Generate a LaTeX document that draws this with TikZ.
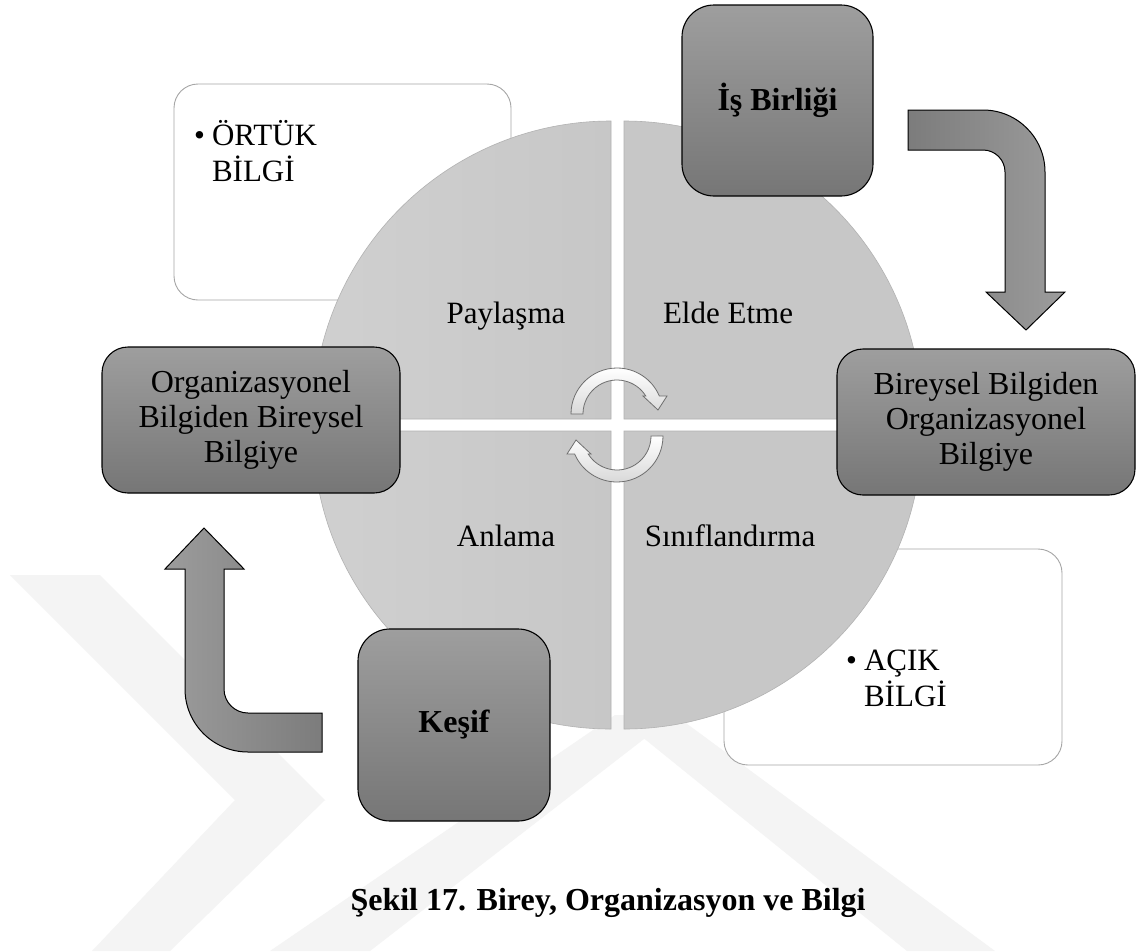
\documentclass[tikz,border=0pt]{standalone}
\usepackage{fontspec}
\setmainfont{Liberation Serif}
\definecolor{boxtop}{HTML}{9E9E9E}
\definecolor{boxbot}{HTML}{767676}
\definecolor{wbord}{HTML}{A6A6A6}
\definecolor{quadfill}{HTML}{C7C7C7}
\definecolor{quadlight}{HTML}{D0D0D0}
\definecolor{qbord}{HTML}{B2B2B2}
\definecolor{arrlight}{HTML}{9C9C9C}
\definecolor{arrdark}{HTML}{7C7C7C}
\definecolor{cabot}{HTML}{D9D9D9}
\definecolor{cabord}{HTML}{6E6E6E}
\definecolor{wmcol}{HTML}{F4F4F4}
\begin{document}
\begin{tikzpicture}[x=1pt,y=-1pt]
\tikzset{
  darkbox/.style={draw=black, line width=1.1pt, top color=boxtop, bottom color=boxbot,
    align=center, inner sep=0pt, font=\fontsize{32}{35}\selectfont},
  whitebox/.style={draw=wbord, line width=0.9pt, fill=white, rounded corners=24pt, inner sep=0pt},
  quadrant/.style={draw=qbord, line width=0.6pt},
  bentarrow/.style={draw=black, line width=1pt},
  cyclearrow/.style={draw=cabord, line width=0.8pt, top color=white, bottom color=cabot},
  qlabel/.style={font=\fontsize{31}{35}\selectfont, anchor=base, inner sep=0pt},
  bullettext/.style={font=\fontsize{31}{33}\selectfont, anchor=base west, inner sep=0pt, align=left},
  wmband/.style={fill=wmcol, draw=none}
}
\useasboundingbox[fill=white] (0,0) rectangle (1138,951);

% faint watermark
\path[wmband] (10,575) -- (100,575) -- (325,800) -- (235,800) -- cycle;
\path[wmband] (92,951) -- (170,951) -- (325,800) -- (235,800) -- cycle;
\path[wmband] (270,951) -- (370,951) -- (675,715) -- (615,715) -- cycle;
\path[wmband] (615,715) -- (675,715) -- (995,951) -- (907,951) -- cycle;

% white text boxes (behind the circle)
\node[whitebox, minimum width=337pt, minimum height=216pt] (ortukbox) at (342.5,192) {};
\node[whitebox, minimum width=338pt, minimum height=216pt] (acikbox) at (893,657) {};
\node[bullettext] (ortuktext) at (194,162)
  {\begin{tabular}{@{}l@{\hspace{7pt}}l@{}}\textbullet & ÖRTÜK\\ & BİLGİ\end{tabular}};
\node[bullettext] (aciktext) at (846,688)
  {\begin{tabular}{@{}l@{\hspace{7pt}}l@{}}\textbullet & AÇIK\\ & BİLGİ\end{tabular}};

% circle quadrants
\path[quadrant, left color=quadlight, right color=quadfill]
  (611,419) -- (313,419) arc[start angle=180, end angle=270, radius=298] -- cycle;
\path[quadrant, fill=quadfill]
  (624,419) -- (624,121) arc[start angle=270, end angle=360, radius=298] -- cycle;
\path[quadrant, fill=quadfill]
  (624,431) -- (922,431) arc[start angle=0, end angle=90, radius=298] -- cycle;
\path[quadrant, left color=quadlight, right color=quadfill]
  (611,431) -- (611,729) arc[start angle=90, end angle=180, radius=298] -- cycle;

\node[qlabel] (paylasma) at (506,323) {Paylaşma};
\node[qlabel] (eldeetme) at (728,323) {Elde Etme};
\node[qlabel] (anlama) at (506,546) {Anlama};
\node[qlabel] (sinif) at (730,546) {Sınıflandırma};

% central cycle arrows
\path[cyclearrow] (571,414) arc[start angle=180, end angle=337, radius=46]
  -- (667,396) -- (658,410) -- (643,396) -- (645.8,396)
  arc[start angle=328, end angle=180, radius=34] -- cycle;
\begin{scope}[rotate around={180:(617,425)}]
\path[cyclearrow] (571,414) arc[start angle=180, end angle=337, radius=46]
  -- (667,396) -- (658,410) -- (643,396) -- (645.8,396)
  arc[start angle=328, end angle=180, radius=34] -- cycle;
\end{scope}

% bent arrows
\path[bentarrow, left color=arrdark, right color=arrlight]
  (908,110) -- (983,110) arc[start angle=270, end angle=360, radius=62]
  -- (1045,292) -- (1065,292) -- (1026,330) -- (986,292) -- (1005,292)
  -- (1005,172) arc[start angle=360, end angle=270, radius=22]
  -- (908,150) -- cycle;
\path[bentarrow, left color=arrlight, right color=arrdark]
  (322,713) -- (248,713) arc[start angle=90, end angle=180, radius=24]
  -- (224,569) -- (244,569) -- (204,528) -- (165,569) -- (185,569)
  -- (185,689) arc[start angle=180, end angle=90, radius=63]
  -- (322,752) -- cycle;

% dark boxes
\node[darkbox, rounded corners=26pt, minimum width=298pt, minimum height=146pt]
  (orgbox) at (251,420) {Organizasyonel\\Bilgiden Bireysel\\Bilgiye};
\node[darkbox, rounded corners=26pt, minimum width=298pt, minimum height=146pt]
  (birbox) at (986,422) {Bireysel Bilgiden\\Organizasyonel\\Bilgiye};
\node[darkbox, rounded corners=32pt, minimum width=191pt, minimum height=191pt]
  (isbox) at (777.5,100.5) {\bfseries İş Birliği};
\node[darkbox, rounded corners=32pt, minimum width=192pt, minimum height=192pt]
  (kesifbox) at (454,725) {\bfseries Keşif};

% caption
\node[font=\fontsize{32}{35}\selectfont\bfseries, anchor=base, inner sep=0pt]
  (caption) at (608,910) {Şekil 17. Birey, Organizasyon ve Bilgi};
\end{tikzpicture}
\end{document}
